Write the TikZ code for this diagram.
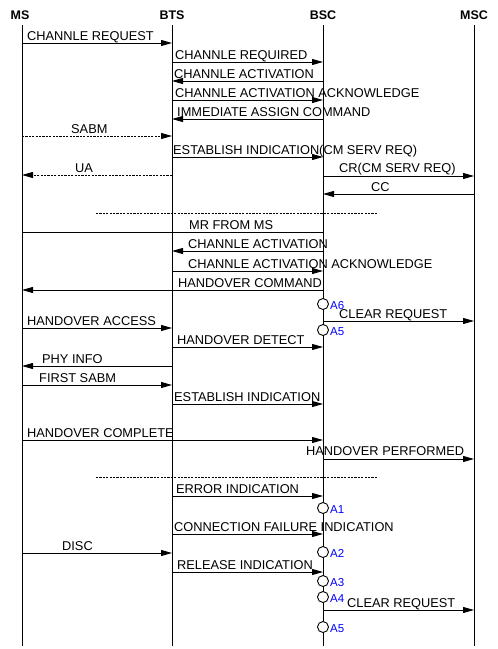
\documentclass[tikz,border=0pt]{standalone}
\usepackage{fontspec}
\setmainfont{Liberation Sans}
\usetikzlibrary{arrows.meta}
\begin{document}
\begin{tikzpicture}[x=1pt,y=-1pt,
  life/.style={line width=0.9pt},
  plain/.style={line width=0.9pt},
  arr/.style={line width=0.9pt,-{Triangle[length=11pt,width=6pt]}},
  dotarr/.style={arr,dash pattern=on 2.2pt off 1.2pt},
  sep/.style={line width=0.9pt,dash pattern=on 2.2pt off 1.2pt},
  lbl/.style={anchor=base west,inner sep=0pt,font=\fontsize{12.8}{14}\selectfont},
  hdr/.style={anchor=base,inner sep=0pt,font=\fontsize{12.5}{14}\selectfont\bfseries},
  ann/.style={circle,draw,fill=white,minimum size=11pt,inner sep=0pt,line width=0.9pt},
  annlbl/.style={anchor=base west,inner sep=0pt,text=blue,font=\fontsize{11.5}{13}\selectfont}]
\useasboundingbox (0,0) rectangle (498,649);
% lifelines
\coordinate (MS) at (22,25);  \coordinate (MSb) at (22,646);
\coordinate (BTS) at (172,25); \coordinate (BTSb) at (172,646);
\coordinate (BSC) at (323,25); \coordinate (BSCb) at (323,646);
\coordinate (MSC) at (474,25); \coordinate (MSCb) at (474,646);
\node[hdr] (hMS) at (20,19) {MS};
\node[hdr] (hBTS) at (172,19) {BTS};
\node[hdr] (hBSC) at (323,19) {BSC};
\node[hdr] (hMSC) at (474,19) {MSC};
\draw[life] (MS) -- (MSb);
\draw[life] (BTS) -- (BTSb);
\draw[life] (BSC) -- (BSCb);
\draw[life] (MSC) -- (MSCb);
% messages
\draw[arr] (MS |- 0,43) -- (BTS |- 0,43);
\node[lbl] (t1) at (27,40) {CHANNLE REQUEST};
\draw[arr] (BTS |- 0,62) -- (BSC |- 0,62);
\node[lbl] (t2) at (175,59) {CHANNLE REQUIRED};
\draw[arr] (BSC |- 0,81) -- (BTS |- 0,81);
\node[lbl] (t3) at (174,78) {CHANNLE ACTIVATION};
\draw[arr] (BTS |- 0,100) -- (BSC |- 0,100);
\node[lbl] (t4) at (175,97) {CHANNLE ACTIVATION ACKNOWLEDGE};
\draw[arr] (BSC |- 0,119) -- (BTS |- 0,119);
\node[lbl] (t5) at (177,116) {IMMEDIATE ASSIGN COMMAND};
\draw[dotarr] (MS |- 0,136) -- (BTS |- 0,136);
\node[lbl] (t6) at (71,133) {SABM};
\draw[arr] (BTS |- 0,157) -- (BSC |- 0,157);
\node[lbl] (t7) at (173,154) {ESTABLISH INDICATION(CM SERV REQ)};
\draw[dotarr] (BTS |- 0,175) -- (MS |- 0,175);
\node[lbl] (t8) at (75,172) {UA};
\draw[arr] (BSC |- 0,176) -- (MSC |- 0,176);
\node[lbl] (t9) at (339,172) {CR(CM SERV REQ)};
\draw[arr] (MSC |- 0,194) -- (BSC |- 0,194);
\node[lbl] (t10) at (371,191) {CC};
\coordinate (s1a) at (96,213); \coordinate (s1b) at (378,213);
\draw[sep] (s1a) -- (s1b);
\draw[plain] (BSC |- 0,232) -- (MS |- 0,232);
\node[lbl] (t11) at (189,229) {MR FROM MS};
\draw[arr] (BSC |- 0,251) -- (BTS |- 0,251);
\node[lbl] (t12) at (188,248) {CHANNLE ACTIVATION};
\draw[arr] (BTS |- 0,271) -- (BSC |- 0,271);
\node[lbl] (t13) at (188,268) {CHANNLE ACTIVATION ACKNOWLEDGE};
\draw[arr] (BSC |- 0,290) -- (MS |- 0,290);
\node[lbl] (t14) at (178,287) {HANDOVER COMMAND};
\draw[arr] (BSC |- 0,321) -- (MSC |- 0,321);
\node[lbl] (t15) at (339,318) {CLEAR REQUEST};
\draw[arr] (MS |- 0,328) -- (BTS |- 0,328);
\node[lbl] (t16) at (27,325) {HANDOVER ACCESS};
\draw[arr] (BTS |- 0,347) -- (BSC |- 0,347);
\node[lbl] (t17) at (177,344) {HANDOVER DETECT};
\draw[arr] (BTS |- 0,366) -- (MS |- 0,366);
\node[lbl] (t18) at (42,363) {PHY INFO};
\draw[arr] (MS |- 0,385) -- (BTS |- 0,385);
\node[lbl] (t19) at (39,382) {FIRST SABM};
\draw[arr] (BTS |- 0,404) -- (BSC |- 0,404);
\node[lbl] (t20) at (174,401) {ESTABLISH INDICATION};
\draw[arr] (MS |- 0,440) -- (BSC |- 0,440);
\node[lbl] (t21) at (27,437) {HANDOVER COMPLETE};
\draw[arr] (BSC |- 0,459) -- (MSC |- 0,459);
\node[lbl] (t22) at (306,455) {HANDOVER PERFORMED};
\coordinate (s2a) at (96,477); \coordinate (s2b) at (378,477);
\draw[sep] (s2a) -- (s2b);
\draw[arr] (BTS |- 0,496) -- (BSC |- 0,496);
\node[lbl] (t23) at (176,493) {ERROR INDICATION};
\draw[arr] (BTS |- 0,534) -- (BSC |- 0,534);
\node[lbl] (t24) at (174,531) {CONNECTION FAILURE INDICATION};
\draw[arr] (MS |- 0,553) -- (BTS |- 0,553);
\node[lbl] (t25) at (62,550) {DISC};
\draw[arr] (BTS |- 0,572) -- (BSC |- 0,572);
\node[lbl] (t26) at (177,569) {RELEASE INDICATION};
\draw[arr] (BSC |- 0,610) -- (MSC |- 0,610);
\node[lbl] (t27) at (347,607) {CLEAR REQUEST};
% annotation circles on BSC
\node[ann] (a6) at (BSC |- 0,304) {};
\node[annlbl] (la6) at (330,309) {A6};
\node[ann] (a5) at (BSC |- 0,330) {};
\node[annlbl] (la5) at (330,335) {A5};
\node[ann] (a1) at (BSC |- 0,508) {};
\node[annlbl] (la1) at (330,513) {A1};
\node[ann] (a2) at (BSC |- 0,552) {};
\node[annlbl] (la2) at (330,557) {A2};
\node[ann] (a3) at (BSC |- 0,581) {};
\node[annlbl] (la3) at (330,586) {A3};
\node[ann] (a4) at (BSC |- 0,597) {};
\node[annlbl] (la4) at (330,602) {A4};
\node[ann] (a5b) at (BSC |- 0,627) {};
\node[annlbl] (la5b) at (330,632) {A5};
\end{tikzpicture}
\end{document}
